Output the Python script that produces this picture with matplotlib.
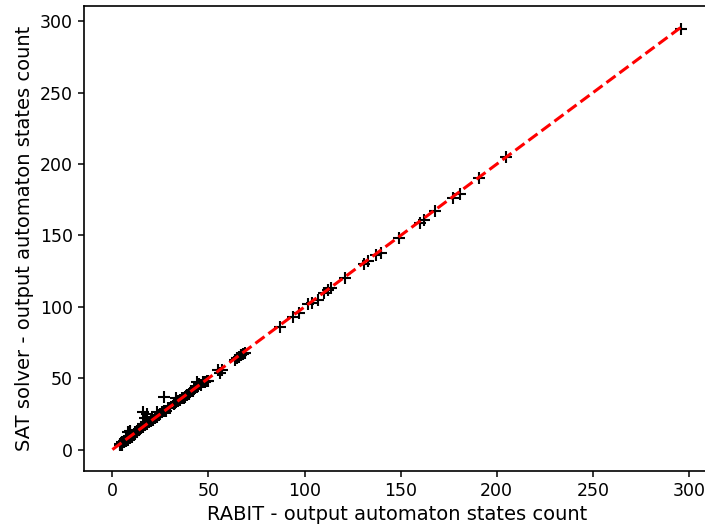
import matplotlib.pyplot as plt

# RABIT vs SAT solver: output automaton states count
rabit = [296, 205, 191, 181, 177, 168, 162, 160, 149, 140, 137, 133, 131, 121,
         114, 112, 110, 107, 104, 102, 97, 94, 87, 69, 68, 67, 66, 65, 64,
         57, 56, 50, 49, 48, 46, 45, 44, 43, 42, 41, 40, 39, 38, 37, 36, 35,
         34, 33, 32, 30, 29, 28, 27, 26, 25, 24, 23, 22, 21, 20, 19, 18, 17,
         17, 16, 16, 15, 15, 14, 13, 13, 12, 12, 11, 11, 10, 10, 9, 9, 9, 8,
         8, 8, 7, 7, 7, 6, 6, 6, 5, 5, 5, 4, 4, 18, 23, 27, 33, 16, 9, 44,
         47, 55, 67]
sat = [295, 205, 190, 179, 176, 167, 161, 159, 148, 138, 136, 132, 130, 120,
       113, 112, 110, 105, 103, 102, 96, 93, 86, 68, 67, 66, 65, 64, 63,
       56, 54, 48, 48, 47, 45, 46, 44, 43, 41, 41, 39, 38, 37, 36, 36, 35,
       34, 33, 32, 29, 29, 27, 27, 26, 25, 24, 23, 22, 21, 20, 19, 18, 17,
       22, 26, 18, 16, 15, 14, 13, 12, 12, 11, 11, 10, 10, 9, 9, 8, 13, 8,
       12, 7, 7, 6, 8, 6, 5, 5, 5, 4, 3, 4, 3, 25, 26, 37, 36, 16, 12, 47,
       47, 56, 66]

fig = plt.figure(figsize=(7.05, 5.29), dpi=100)
ax = fig.add_axes([0.1191, 0.1102, 0.8875, 0.8785])

ax.scatter(rabit, sat, marker='+', color='black', s=80, linewidths=1.5, zorder=2)
top = max(rabit)
ax.plot([0, top], [0, top], 'r--', linewidth=2.2, zorder=3)

ax.set_xticks(range(0, 301, 50))
ax.set_yticks(range(0, 301, 50))
ax.tick_params(labelsize=12.5, width=1.1, length=4.5)
for s in ax.spines.values():
    s.set_linewidth(1.2)
ax.spines['right'].set_visible(False)  # cut off at the image edge in the original
ax.set_xlabel('RABIT - output automaton states count', fontsize=14)
ax.set_ylabel('SAT solver - output automaton states count', fontsize=14)

fig.savefig('out.png', dpi=100)
